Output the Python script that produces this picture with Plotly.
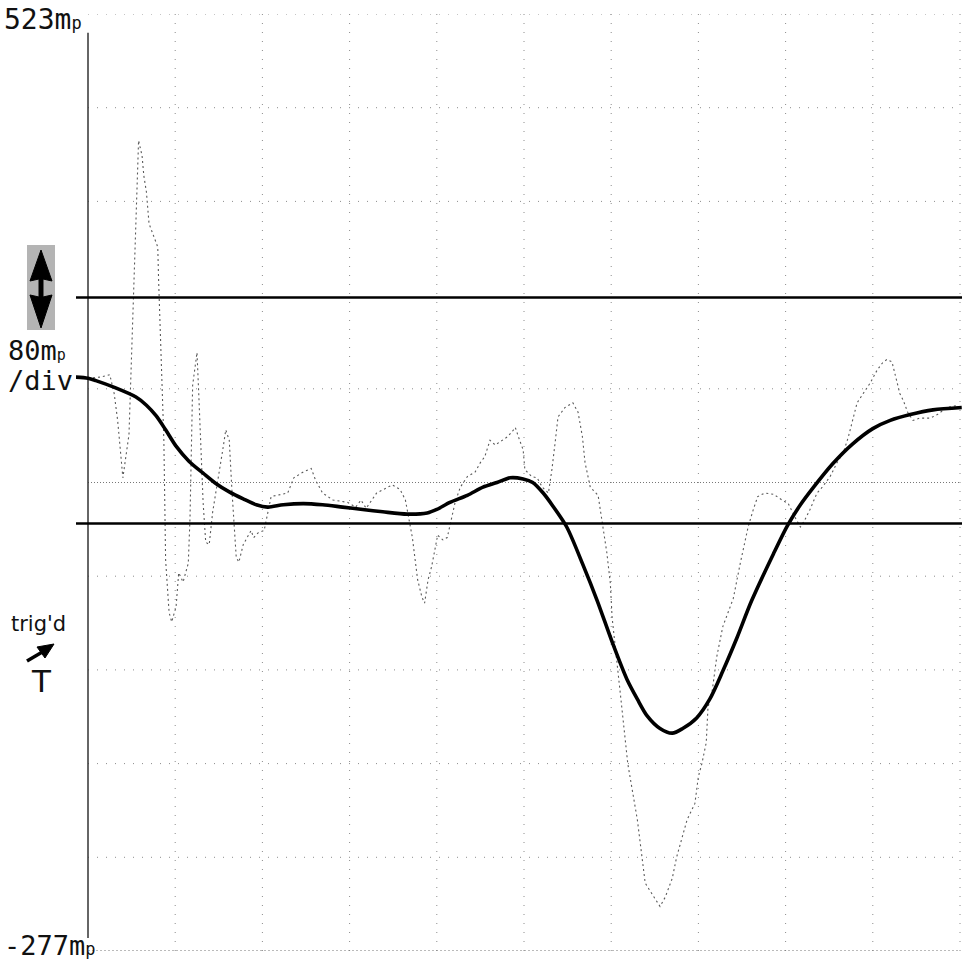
import plotly.graph_objects as go

# ---- data (time in screen divisions, amplitude in mp) ----
t_filtered = [-0.14, 0.0, 0.09, 0.31, 0.55, 0.67, 0.78, 0.89, 1.01, 1.16,
              1.32, 1.47, 1.62, 1.78, 1.93, 2.06, 2.24, 2.47, 2.69, 2.92,
              3.15, 3.38, 3.66, 3.89, 4.00, 4.15, 4.35, 4.53, 4.69, 4.84,
              4.99, 5.10, 5.22, 5.33, 5.49, 5.68, 5.84, 6.02, 6.18, 6.30,
              6.41, 6.56, 6.70, 6.82, 6.98, 7.13, 7.28, 7.44, 7.61, 7.86,
              8.02, 8.17, 8.31, 8.54, 8.77, 9.00, 9.20, 9.43, 9.69, 10.02]
v_filtered = [213, 212, 210, 204, 196, 189, 180, 168, 154, 141,
              131, 122, 115, 109, 104, 102, 104, 105, 104, 102,
              100, 98, 96, 97, 100, 106, 112, 119, 123, 127,
              126, 123, 114, 103, 85, 52, 22, -15, -45, -62,
              -76, -87, -91, -87, -78, -62, -38, -10, 22, 62,
              86, 104, 118, 139, 156, 169, 176, 181, 185, 187]

t_raw = [0.0, 0.14, 0.25, 0.30, 0.34, 0.40, 0.47, 0.52, 0.55, 0.58,
         0.62, 0.64, 0.67, 0.70, 0.75, 0.80, 0.81, 0.83, 0.86, 0.87,
         0.89, 0.93, 0.96, 1.01, 1.04, 1.09, 1.15, 1.17, 1.20, 1.25,
         1.27, 1.30, 1.32, 1.35, 1.39, 1.43, 1.50, 1.55, 1.58, 1.62,
         1.65, 1.70, 1.73, 1.78, 1.87, 1.90, 1.95, 2.02, 2.10, 2.29,
         2.36, 2.47, 2.56, 2.61, 2.69, 2.81, 2.98, 3.07, 3.13, 3.19,
         3.31, 3.49, 3.58, 3.64, 3.72, 3.78, 3.83, 3.86, 3.90, 3.94,
         4.01, 4.07, 4.12, 4.21, 4.27, 4.35, 4.44, 4.50, 4.55, 4.61,
         4.67, 4.75, 4.81, 4.86, 4.90, 4.95, 4.99, 5.01, 5.09, 5.15,
         5.21, 5.28, 5.32, 5.36, 5.39, 5.47, 5.56, 5.62, 5.67, 5.70,
         5.76, 5.85, 5.91, 5.95, 5.99, 6.01, 6.10, 6.19, 6.30, 6.39,
         6.44, 6.53, 6.56, 6.62, 6.70, 6.75, 6.81, 6.87, 6.96, 7.00,
         7.04, 7.09, 7.11, 7.16, 7.21, 7.28, 7.34, 7.40, 7.48, 7.57,
         7.63, 7.68, 7.76, 7.86, 7.96, 8.03, 8.11, 8.17, 8.22, 8.28,
         8.36, 8.42, 8.51, 8.59, 8.66, 8.72, 8.82, 8.89, 8.97, 9.05,
         9.11, 9.16, 9.22, 9.25, 9.31, 9.35, 9.40, 9.46, 9.54, 9.66,
         9.74, 9.85, 9.98]
v_raw = [212, 213, 215, 199, 176, 127, 164, 286, 356, 415,
         402, 385, 371, 344, 334, 324, 295, 254, 187, 159,
         57, 12, 4, 17, 46, 38, 54, 93, 206, 234,
         199, 151, 106, 72, 70, 98, 128, 153, 168, 159,
         117, 59, 55, 70, 82, 76, 80, 82, 111, 114,
         127, 132, 135, 125, 114, 108, 106, 102, 108, 101,
         114, 121, 117, 108, 76, 40, 25, 20, 40, 51,
         78, 74, 76, 106, 119, 128, 132, 140, 145, 159,
         155, 159, 162, 166, 170, 159, 151, 134, 128, 127,
         119, 114, 134, 159, 179, 187, 191, 183, 162, 140,
         119, 112, 81, 63, 37, 8, -54, -117, -165, -219,
         -225, -235, -239, -231, -215, -197, -180, -165, -151, -128,
         -117, -99, -69, -54, -26, 0, 12, 24, 54, 85,
         100, 111, 114, 113, 108, 105, 93, 85, 91, 100,
         114, 119, 128, 140, 148, 162, 191, 199, 208, 219,
         225, 228, 226, 217, 199, 193, 183, 176, 178, 178,
         181, 187, 189]
assert len(t_raw) == len(v_raw) and len(t_filtered) == len(v_filtered)

y_top, y_bottom = 523, -277
grid_x = [1, 2, 3, 4, 5, 6, 7, 8, 9, 10]
grid_y = [523, 443, 363, 203, 43, -37, -117, -197]
center_y = 123
cursor_levels = [281, 88]

top_label = "523m<span style='font-size:17px'>p</span>"
bottom_label = "-277m<span style='font-size:17px'>p</span>"
scale_label1 = "80m<span style='font-size:15px'>p</span>"
scale_label2 = "/div"
trig_label = "trig'd"
trig_source = "T"

# ---- figure geometry ----
W, H = 962, 960
ML, MR, MT, MB = 76, 0, 14, 9
PW, PH = W - ML - MR, H - MT - MB


def px(x):
    return (x - ML) / PW


def py(y):
    return (H - MB - y) / PH


def poly(points):
    s = "M " + " L ".join(f"{px(a):.5f},{py(b):.5f}" for a, b in points) + " Z"
    return s


fig = go.Figure()

fig.add_trace(go.Scatter(
    x=t_raw, y=v_raw, mode="lines",
    line=dict(color="#5a5a5a", width=1.1, dash="2px,3px"),
    hoverinfo="skip", showlegend=False))

fig.add_trace(go.Scatter(
    x=t_filtered, y=v_filtered, mode="lines",
    line=dict(color="#000000", width=3.6, shape="spline", smoothing=0.8),
    hoverinfo="skip", showlegend=False))

shapes = []
for gx in grid_x:
    shapes.append(dict(type="line", xref="x", yref="y", x0=gx, x1=gx,
                       y0=y_bottom, y1=y_top,
                       line=dict(color="#8c8c8c", width=1, dash="1px,8px"),
                       layer="below"))
for gy in grid_y:
    shapes.append(dict(type="line", xref="x", yref="y", x0=0, x1=10,
                       y0=gy, y1=gy,
                       line=dict(color="#8c8c8c", width=1, dash="1px,8px"),
                       layer="below"))
shapes.append(dict(type="line", xref="x", yref="y", x0=0, x1=10,
                   y0=center_y, y1=center_y,
                   line=dict(color="#777777", width=1, dash="1px,2px"),
                   layer="below"))
shapes.append(dict(type="line", xref="x", yref="y", x0=0, x1=10,
                   y0=y_bottom, y1=y_bottom,
                   line=dict(color="#777777", width=1.2, dash="2px,2px"),
                   layer="below"))
# left vertical axis line
shapes.append(dict(type="line", xref="x", yref="y", x0=0, x1=0,
                   y0=y_bottom + 11, y1=y_top - 16,
                   line=dict(color="#333333", width=1.5), layer="below"))
for lv in cursor_levels:
    shapes.append(dict(type="line", xref="paper", yref="y", x0=0, x1=1,
                       y0=lv, y1=lv, line=dict(color="#000000", width=2.5)))
# stippled box behind double arrow
shapes.append(dict(type="rect", xref="paper", yref="paper",
                   x0=px(27), x1=px(55), y0=py(330), y1=py(245),
                   line=dict(width=0), fillcolor="#b4b4b4", layer="below"))
# double-headed vertical arrow (two tall heads joined by a short shaft)
shapes.append(dict(type="path", xref="paper", yref="paper",
                   path=poly([(41, 250), (52, 281), (43, 279), (43, 297), (52, 295),
                              (41, 328), (30, 295), (39, 297), (39, 279), (30, 281)]),
                   fillcolor="#000000", line=dict(color="#000000", width=1)))
# trigger arrow
shapes.append(dict(type="line", xref="paper", yref="paper",
                   x0=px(27), y0=py(661), x1=px(44), y1=py(651),
                   line=dict(color="#000000", width=3.5)))
shapes.append(dict(type="path", xref="paper", yref="paper",
                   path=poly([(54, 644), (37, 647), (45, 658)]),
                   fillcolor="#000000", line=dict(color="#000000", width=1)))

annotations = []
mono = "DejaVu Sans Mono"
annotations.append(dict(xref="paper", yref="paper", x=px(2), y=py(19),
                        xanchor="left", yanchor="middle", showarrow=False,
                        text=top_label, font=dict(family=mono, size=28, color="#111")))
annotations.append(dict(xref="paper", yref="paper", x=px(2), y=py(945),
                        xanchor="left", yanchor="middle", showarrow=False,
                        text=bottom_label, font=dict(family=mono, size=27, color="#111")))
annotations.append(dict(xref="paper", yref="paper", x=px(6), y=py(350),
                        xanchor="left", yanchor="middle", showarrow=False,
                        text=scale_label1, font=dict(family=mono, size=27, color="#111")))
annotations.append(dict(xref="paper", yref="paper", x=px(6), y=py(381),
                        xanchor="left", yanchor="middle", showarrow=False,
                        text=scale_label2, font=dict(family=mono, size=27, color="#111")))
annotations.append(dict(xref="paper", yref="paper", x=px(9), y=py(624),
                        xanchor="left", yanchor="middle", showarrow=False,
                        text=trig_label, font=dict(family="DejaVu Sans", size=21, color="#111")))
annotations.append(dict(xref="paper", yref="paper", x=px(41), y=py(681),
                        xanchor="center", yanchor="middle", showarrow=False,
                        text=trig_source,
                        font=dict(family="Liberation Sans Narrow, DejaVu Sans", size=31, color="#111")))

fig.update_layout(
    width=W, height=H, autosize=False,
    margin=dict(l=ML, r=MR, t=MT, b=MB),
    paper_bgcolor="white", plot_bgcolor="white",
    showlegend=False,
    xaxis=dict(range=[-12 / 87.2, 10 + 2 / 87.2], showgrid=False, zeroline=False,
               showticklabels=False, ticks="", showline=False, fixedrange=True),
    yaxis=dict(range=[y_bottom, y_top], showgrid=False, zeroline=False,
               showticklabels=False, ticks="", showline=False, fixedrange=True),
    shapes=shapes, annotations=annotations,
)

fig.write_html("out.html", config={"displayModeBar": False})
